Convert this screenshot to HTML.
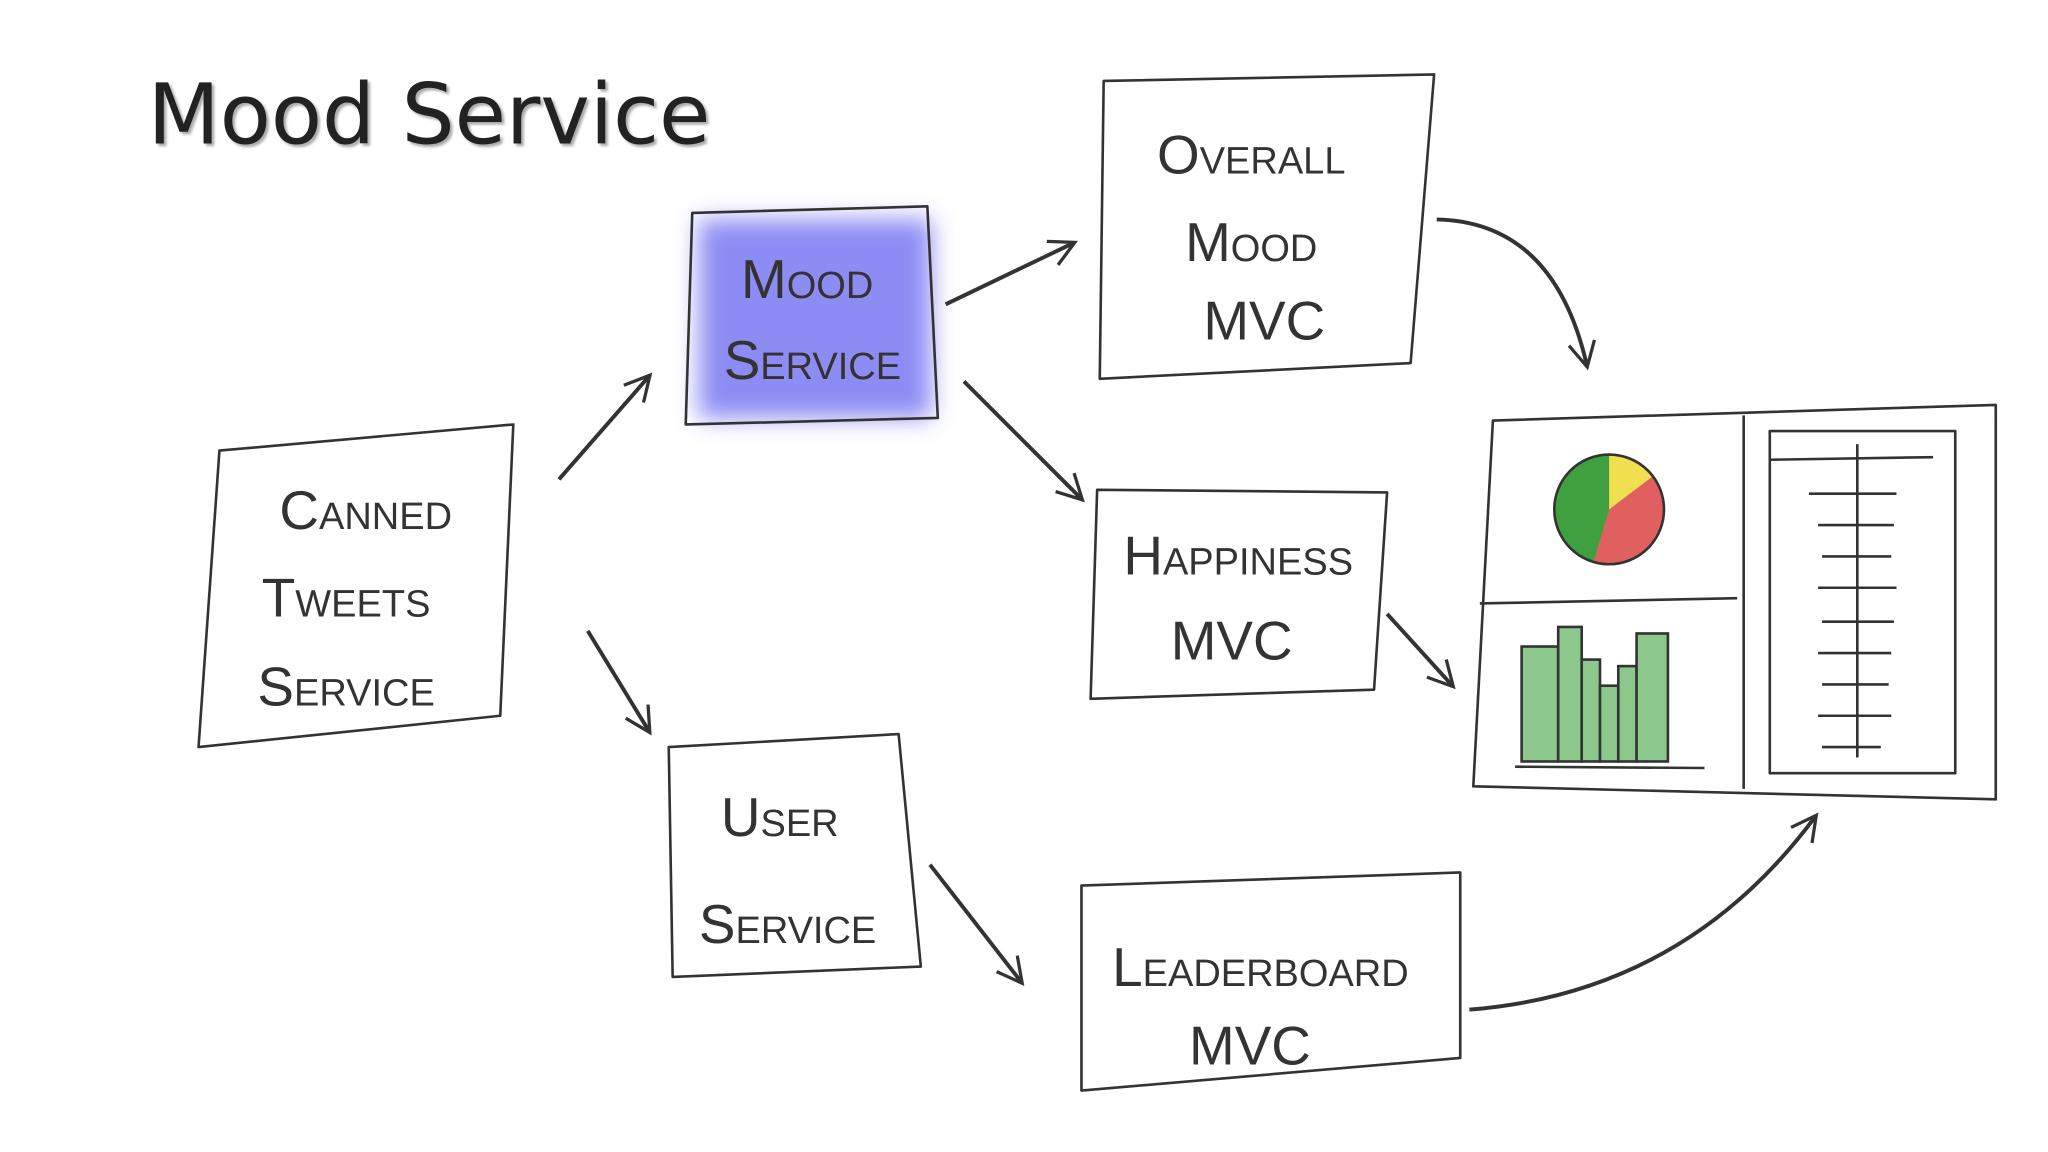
<!DOCTYPE html>
<html><head><meta charset="utf-8"><style>
html,body{margin:0;padding:0;background:#fff;}
svg{display:block;}
.t{font-family:"Liberation Sans",sans-serif;fill:#333;font-variant:small-caps;}
</style></head><body>
<svg width="2048" height="1152" viewBox="0 0 1568 882" xmlns="http://www.w3.org/2000/svg">
<defs>
<filter id="bl" x="-30%" y="-30%" width="160%" height="160%"><feGaussianBlur stdDeviation="9"/></filter>
<marker id="ah" markerWidth="26" markerHeight="26" refX="20" refY="12" orient="auto" markerUnits="userSpaceOnUse">
<path d="M2,2 L21,12 L2,22" fill="none" stroke="#333" stroke-width="2.5"/></marker>
</defs>
<rect width="1568" height="882" fill="#fff"/>
<text x="113" y="110" font-family="DejaVu Sans,Liberation Sans,sans-serif" font-size="64" fill="#222" style="filter:drop-shadow(2px 2px 1px #aaa)">Mood Service</text>

<g fill="none" stroke="#333" stroke-width="2" stroke-linejoin="round">
<rect x="535" y="168" width="178" height="152" fill="#8c8cf4" stroke="none" filter="url(#bl)"/>
<polygon points="168,345 393,325 383,548 152,572"/>
<polygon points="530,163 710,158 718,320 525,325"/>
<polygon points="845,62 1098,57 1080,278 842,290"/>
<polygon points="840,375 1062,377 1052,528 835,535"/>
<polygon points="512,572 688,562 705,740 515,748"/>
<polygon points="828,678 1118,668 1118,810 828,835"/>
<polygon points="1143,322 1528,310 1528,612 1128,602"/>
<line x1="1335" y1="318" x2="1335" y2="604"/>
<line x1="1133" y1="462" x2="1330" y2="458"/>
<rect x="1355" y="330" width="142" height="262"/>
<line x1="1355" y1="352" x2="1480" y2="350"/>
<line x1="1422" y1="340" x2="1422" y2="580"/>
</g>
<g stroke="#333" stroke-width="2">
<line x1="1385" y1="378" x2="1452" y2="378"/><line x1="1392" y1="402" x2="1450" y2="402"/>
<line x1="1395" y1="426" x2="1448" y2="426"/><line x1="1392" y1="450" x2="1452" y2="450"/>
<line x1="1395" y1="476" x2="1450" y2="476"/><line x1="1392" y1="500" x2="1448" y2="500"/>
<line x1="1395" y1="524" x2="1446" y2="524"/><line x1="1392" y1="548" x2="1448" y2="548"/>
<line x1="1395" y1="572" x2="1440" y2="572"/>
</g>
<circle cx="1232" cy="390" r="42" fill="#e06060"/>
<path d="M1232,390 L1232,348 A42,42 0 0 0 1220,430 Z" fill="#3fa040"/>
<path d="M1232,390 L1232,348 A42,42 0 0 1 1265,365 Z" fill="#f0e050"/>
<circle cx="1232" cy="390" r="42" fill="none" stroke="#333" stroke-width="2"/>
<g fill="#8cc88c" stroke="#333" stroke-width="2">
<rect x="1165" y="495" width="28" height="88"/><rect x="1193" y="480" width="18" height="103"/>
<rect x="1211" y="505" width="14" height="78"/><rect x="1225" y="525" width="14" height="58"/>
<rect x="1239" y="510" width="14" height="73"/><rect x="1253" y="485" width="24" height="98"/>
</g>
<line x1="1160" y1="587" x2="1305" y2="588" stroke="#333" stroke-width="2"/>

<g fill="none" stroke="#333" stroke-width="3" marker-end="url(#ah)">
<path d="M428,367 L497,288"/>
<path d="M450,483 L497,560"/>
<path d="M724,233 L822,186"/>
<path d="M738,292 L828,382"/>
<path d="M712,662 L782,752"/>
<path d="M1062,470 L1112,525"/>
<path d="M1100,168 Q1190,170 1215,280"/>
<path d="M1125,773 Q1290,760 1390,625"/>
</g>

<g class="t" text-anchor="middle" font-size="42">
<text x="280" y="405">Canned</text>
<text x="265" y="472">Tweets</text>
<text x="265" y="540">Service</text>
<text x="618" y="228">Mood</text>
<text x="622" y="290">Service</text>
<text x="958" y="133">Overall</text>
<text x="958" y="200">Mood</text>
<text x="968" y="260">MVC</text>
<text x="948" y="440">Happiness</text>
<text x="943" y="505">MVC</text>
<text x="597" y="640">User</text>
<text x="603" y="722">Service</text>
<text x="965" y="755">Leaderboard</text>
<text x="957" y="815">MVC</text>
</g>
</svg>
</body></html>
